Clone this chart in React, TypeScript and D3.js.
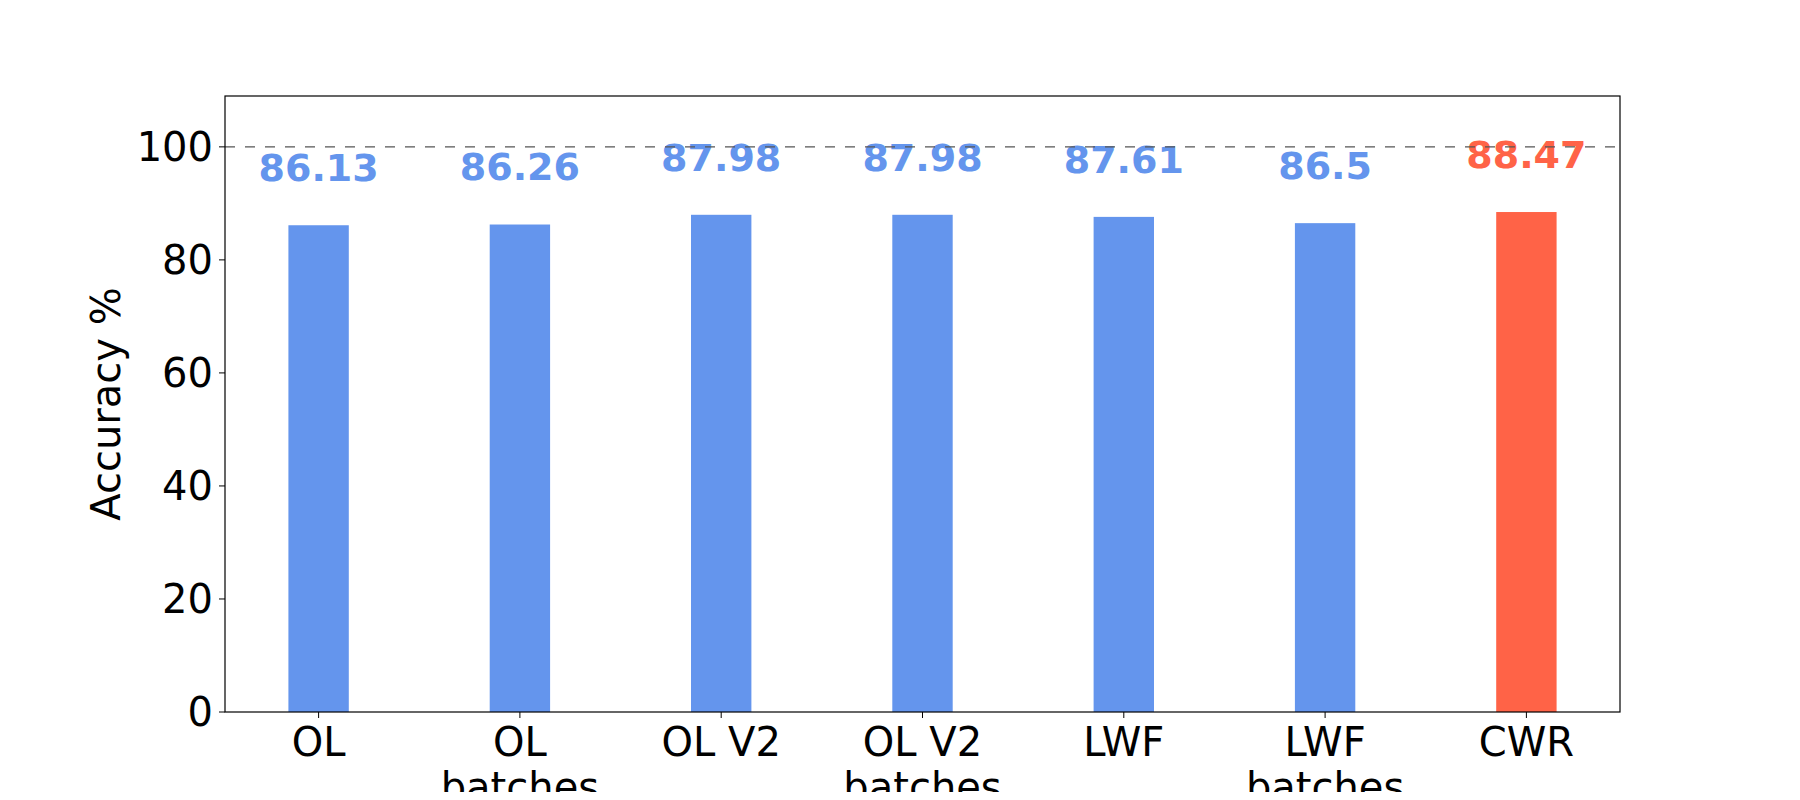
import { scaleLinear } from "d3";

const categories = [["OL"], ["OL", "batches"], ["OL V2"], ["OL V2", "batches"], ["LWF"], ["LWF", "batches"], ["CWR"]];
const accuracy = [86.13, 86.26, 87.98, 87.98, 87.61, 86.5, 88.47];
const labels = ["86.13", "86.26", "87.98", "87.98", "87.61", "86.5", "88.47"];
const yTicks = [0, 20, 40, 60, 80, 100];

const W = 1800, H = 800;
const L = 225, R = 1620, T = 96, B = 712;
const font = "DejaVu Sans, sans-serif";

export default function App() {
  const x = scaleLinear().domain([-0.465, 6.465]).range([L, R]);
  const y = scaleLinear().domain([0, 109]).range([B, T]);
  const bw = x(0.3) - x(0);
  return (
    <svg width={W} height={H} style={{ display: "block", margin: -8 }}>
      <rect width={W} height={H} fill="white" />
      {accuracy.map((v, i) => {
        const c = i === 6 ? "#ff6347" : "#6495ed";
        return (
          <g key={i}>
            <rect x={x(i) - bw / 2} y={y(v)} width={bw} height={B - y(v)} fill={c} />
            <text x={x(i)} y={y(v + 7.8)} fill={c} fontFamily={font} fontSize={38} fontWeight="bold" textAnchor="middle">
              {labels[i]}
            </text>
          </g>
        );
      })}
      <line x1={L} x2={R} y1={y(100)} y2={y(100)} stroke="#555" strokeWidth={1.2} strokeDasharray="10,10" />
      <rect x={L} y={T} width={R - L} height={B - T} fill="none" stroke="black" strokeWidth={1.2} />
      {yTicks.map((t) => (
        <g key={t}>
          <line x1={L - 6} x2={L} y1={y(t)} y2={y(t)} stroke="black" />
          <text x={L - 12} y={y(t)} dy="0.35em" textAnchor="end" fontFamily={font} fontSize={40}>{t}</text>
        </g>
      ))}
      {categories.map((lines, i) => (
        <g key={i}>
          <line x1={x(i)} x2={x(i)} y1={B} y2={B + 6} stroke="black" />
          {lines.map((s, j) => (
            <text key={j} x={x(i)} y={B + 44 + j * 45} textAnchor="middle" fontFamily={font} fontSize={40}>{s}</text>
          ))}
        </g>
      ))}
      <text transform={`translate(120,${(T + B) / 2}) rotate(-90)`} textAnchor="middle" fontFamily={font} fontSize={40}>
        Accuracy %
      </text>
    </svg>
  );
}
